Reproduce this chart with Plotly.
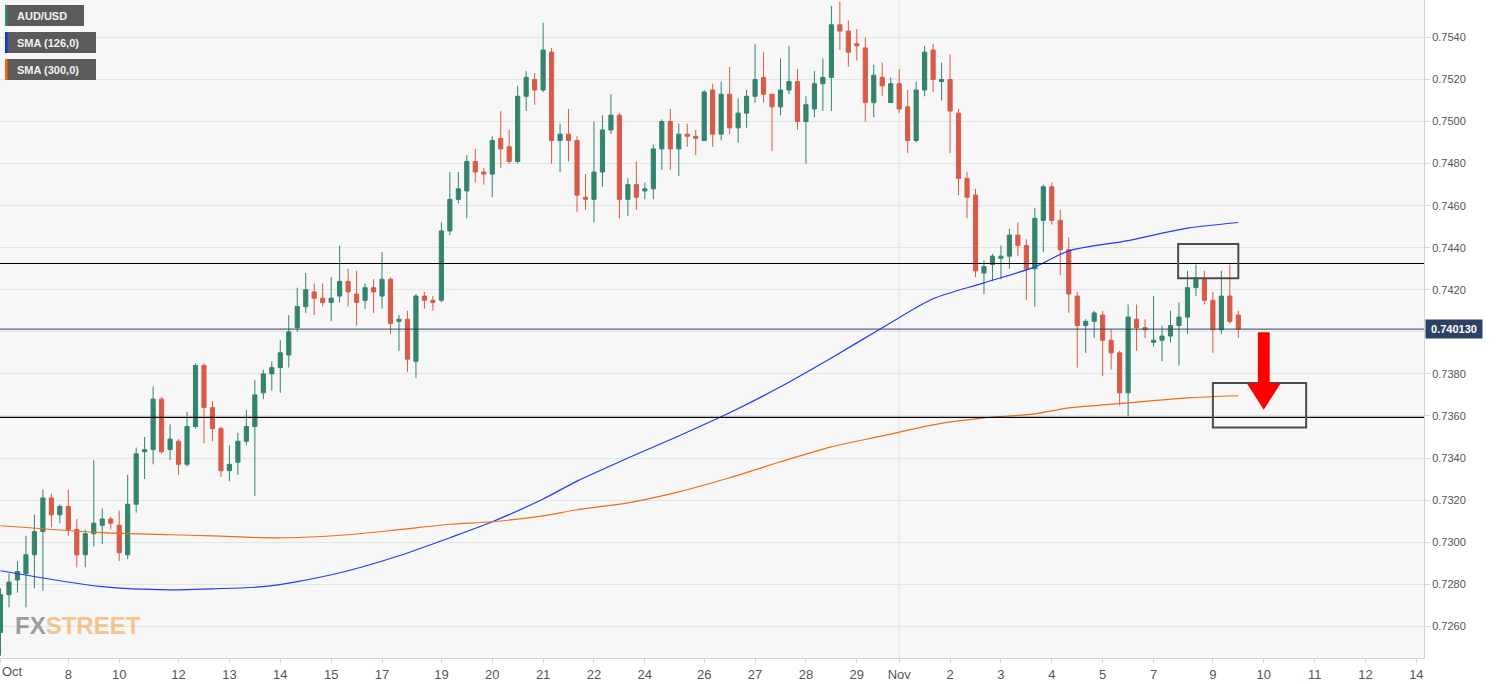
import plotly.graph_objects as go

# ---------------- data (4-hour AUD/USD candles) ----------------
opens = [0.7257,0.7275,0.7282,0.7285,0.7294,0.7305,0.7321,0.7313,0.7317,0.7306,
         0.7294,0.7304,0.7308,0.7311,0.7308,0.7294,0.7318,0.7343,0.7344,0.7368,
         0.7344,0.7348,0.7337,0.7355,0.7384,0.7364,0.7354,0.7334,0.7338,0.7348,
         0.7355,0.7371,0.7380,0.7383,0.7389,0.7402,0.7412,0.7419,0.7416,0.7414,
         0.7417,0.7424,0.7418,0.7415,0.7421,0.7417,0.7425,0.7405,0.7406,0.7386,
         0.7417,0.7415,0.7415,0.7448,0.7463,0.7467,0.7481,0.7476,0.7475,0.7492,
         0.7488,0.7481,0.7512,0.7520,0.7515,0.7533,0.7491,0.7494,0.7491,0.7464,
         0.7463,0.7476,0.7496,0.7503,0.7463,0.7470,0.7467,0.7468,0.7487,0.7500,
         0.7487,0.7494,0.7493,0.7491,0.7515,0.7494,0.7513,0.7497,0.7504,0.7512,
         0.7521,0.7513,0.7507,0.7515,0.7519,0.7500,0.7506,0.7518,0.7521,0.7546,
         0.7543,0.7537,0.7535,0.7509,0.7521,0.7509,0.7518,0.7507,0.7491,0.7515,
         0.7534,0.7519,0.7520,0.7504,0.7473,0.7465,0.7428,0.7432,0.7435,0.7436,
         0.7446,0.7441,0.7430,0.7453,0.7469,0.7453,0.7439,0.7417,0.7403,0.7405,
         0.7408,0.7396,0.7390,0.7371,0.7406,0.7402,0.7395,0.7396,0.7398,0.7403,
         0.7407,0.7421,0.7425,0.7415,0.7401,0.7417,0.7408]
highs = [0.7278,0.7285,0.7291,0.7303,0.7313,0.7325,0.7323,0.7318,0.7325,0.7311,
         0.7306,0.7339,0.7316,0.7312,0.7315,0.7332,0.7345,0.7350,0.7374,0.7369,
         0.7356,0.7349,0.7362,0.7385,0.7385,0.7367,0.7355,0.7346,0.7352,0.7363,
         0.7377,0.7382,0.7386,0.7396,0.7408,0.7421,0.7428,0.7423,0.7423,0.7426,
         0.7441,0.7430,0.7429,0.7423,0.7425,0.7438,0.7426,0.7408,0.7410,0.7418,
         0.7419,0.7417,0.7452,0.7476,0.7476,0.7484,0.7487,0.7478,0.7493,0.7505,
         0.7496,0.7517,0.7524,0.7523,0.7547,0.7535,0.7499,0.7506,0.7493,0.7475,
         0.7500,0.7503,0.7513,0.7504,0.7473,0.7481,0.7471,0.7489,0.7501,0.7506,
         0.7499,0.7499,0.7496,0.7515,0.7518,0.7519,0.7526,0.7511,0.7515,0.7537,
         0.7533,0.7513,0.7530,0.7536,0.7525,0.7512,0.7524,0.7530,0.7555,0.7557,
         0.7548,0.7544,0.7540,0.7527,0.7528,0.7521,0.7525,0.7515,0.7519,0.7536,
         0.7537,0.7528,0.7532,0.7506,0.7476,0.7468,0.7434,0.7437,0.7441,0.7449,
         0.7452,0.7444,0.7459,0.7470,0.7471,0.7458,0.7445,0.7419,0.7406,0.7410,
         0.7410,0.7401,0.7391,0.7413,0.7413,0.7406,0.7417,0.7403,0.7410,0.7414,
         0.7429,0.7432,0.7429,0.7419,0.7429,0.7432,0.7410]
lows = [0.7246,0.7269,0.7276,0.7269,0.7278,0.7277,0.7307,0.7309,0.7303,0.7288,
        0.7288,0.7298,0.7299,0.7306,0.7291,0.7292,0.7314,0.7330,0.7337,0.7342,
        0.7339,0.7332,0.7336,0.7354,0.7347,0.7348,0.7331,0.7329,0.7332,0.7346,
        0.7322,0.7368,0.7372,0.7371,0.7383,0.7400,0.7409,0.7408,0.7412,0.7405,
        0.7414,0.7412,0.7403,0.7411,0.7409,0.7411,0.7399,0.7391,0.7381,0.7378,
        0.7411,0.7410,0.7414,0.7446,0.7461,0.7454,0.7471,0.7470,0.7464,0.7478,
        0.7480,0.7480,0.7505,0.7508,0.7514,0.7480,0.7476,0.7481,0.7457,0.7458,
        0.7452,0.7469,0.7494,0.7454,0.7455,0.7458,0.7463,0.7463,0.7477,0.7477,
        0.7474,0.7488,0.7484,0.7491,0.7488,0.7491,0.7494,0.7490,0.7497,0.7509,
        0.7509,0.7486,0.7503,0.7513,0.7496,0.7480,0.7502,0.7505,0.7505,0.7534,
        0.7526,0.7529,0.7500,0.7502,0.7512,0.7509,0.7504,0.7485,0.7490,0.7512,
        0.7514,0.7510,0.7485,0.7465,0.7454,0.7426,0.7418,0.7424,0.7425,0.7430,
        0.7436,0.7415,0.7412,0.7438,0.7451,0.7427,0.7409,0.7383,0.7390,0.7397,
        0.7379,0.7382,0.7365,0.7360,0.7391,0.7397,0.7393,0.7386,0.7395,0.7384,
        0.7399,0.7417,0.7413,0.7390,0.7399,0.7404,0.7397]
closes = [0.7275,0.7281,0.7286,0.7294,0.7305,0.7321,0.7313,0.7317,0.7306,0.7294,
          0.7304,0.7309,0.7311,0.7309,0.7295,0.7318,0.7342,0.7344,0.7368,0.7343,
          0.7349,0.7337,0.7355,0.7384,0.7364,0.7354,0.7334,0.7337,0.7348,0.7355,
          0.7370,0.7380,0.7383,0.7390,0.7400,0.7412,0.7420,0.7416,0.7414,0.7416,
          0.7424,0.7419,0.7414,0.7421,0.7419,0.7425,0.7404,0.7406,0.7387,0.7417,
          0.7415,0.7414,0.7448,0.7463,0.7468,0.7481,0.7476,0.7475,0.7491,0.7487,
          0.7481,0.7512,0.7521,0.7515,0.7534,0.7491,0.7494,0.7491,0.7465,0.7463,
          0.7476,0.7496,0.7503,0.7463,0.7470,0.7464,0.7468,0.7487,0.7500,0.7487,
          0.7494,0.7493,0.7492,0.7514,0.7494,0.7513,0.7497,0.7504,0.7512,0.7520,
          0.7513,0.7507,0.7515,0.7519,0.7500,0.7508,0.7518,0.7521,0.7546,0.7543,
          0.7533,0.7536,0.7509,0.7522,0.7517,0.7518,0.7506,0.7491,0.7515,0.7533,
          0.7520,0.7520,0.7505,0.7473,0.7464,0.7429,0.7431,0.7436,0.7436,0.7446,
          0.7441,0.7430,0.7454,0.7469,0.7453,0.7439,0.7418,0.7403,0.7405,0.7409,
          0.7396,0.7390,0.7371,0.7407,0.7402,0.7401,0.7396,0.7398,0.7403,0.7407,
          0.7421,0.7425,0.7415,0.7401,0.7417,0.7405,0.74013]
bar_index = list(range(len(closes)))

# moving averages at selected bars
sma_bars = [0, 12, 20, 25, 31, 35, 41, 47, 53, 58, 64, 68, 74, 80, 86, 92, 98,
            104, 110, 116, 122, 126, 133, 140, 146]
sma126 = [0.72864, 0.72788, 0.72773, 0.72778, 0.72788, 0.72812, 0.72864, 0.72935,
          0.73021, 0.73097, 0.73205, 0.73290, 0.73400, 0.73505, 0.73615, 0.73739,
          0.73876, 0.74019, 0.74157, 0.74233, 0.74309, 0.74385, 0.74434, 0.74493,
          0.74520]
sma300 = [0.73078, 0.73045, 0.73035, 0.73030, 0.73021, 0.73022, 0.73035, 0.73059,
          0.73085, 0.73097, 0.73125, 0.73154, 0.73187, 0.73239, 0.73306, 0.73382,
          0.73453, 0.73505, 0.73558, 0.73591, 0.73610, 0.73638, 0.73662, 0.73686,
          0.73696]

tick_bars = [0, 8, 14, 21, 27, 33, 39, 45, 52, 58, 64, 70, 76, 83, 89, 95, 101,
             106, 112, 118, 124, 130, 136, 143, 149, 155, 161, 167]
tick_text = ["", "8", "10", "12", "13", "14", "15", "17", "19", "20", "21", "22",
             "24", "26", "27", "28", "29", "Nov", "2", "3", "4", "5", "7", "9",
             "10", "11", "12", "14"]
price_ticks = [0.7260, 0.7280, 0.7300, 0.7320, 0.7340, 0.7360, 0.7380, 0.7400,
               0.7420, 0.7440, 0.7460, 0.7480, 0.7500, 0.7520, 0.7540]
# the 0.7400 label sits under the last-price tag, so it is left blank
price_labels = ["0.7260", "0.7280", "0.7300", "0.7320", "0.7340", "0.7360",
                "0.7380", "", "0.7420", "0.7440", "0.7460", "0.7480",
                "0.7500", "0.7520", "0.7540"]

resistance = 0.74325
support = 0.73593
last_price = 0.74013

GREEN = "#33836f"
RED = "#d75b48"
NAVY = "#2c4163"
FRAME = "#cdd5e4"
NARROW = "Liberation Sans Narrow, Arial Narrow, Liberation Sans, Arial, sans-serif"
ARIAL = "Liberation Sans, Arial, sans-serif"

fig = go.Figure()

fig.add_trace(go.Candlestick(
    x=bar_index, open=opens, high=highs, low=lows, close=closes,
    increasing=dict(line=dict(color=GREEN, width=1), fillcolor=GREEN),
    decreasing=dict(line=dict(color=RED, width=1), fillcolor=RED),
    whiskerwidth=0, showlegend=False, hoverinfo="skip"))

fig.add_trace(go.Scatter(x=sma_bars, y=sma126, mode="lines",
                         line=dict(color="#1e3cf5", width=1.2, shape="spline", smoothing=0.8),
                         showlegend=False, hoverinfo="skip"))
fig.add_trace(go.Scatter(x=sma_bars, y=sma300, mode="lines",
                         line=dict(color="#ef6c16", width=1.2, shape="spline", smoothing=0.8),
                         showlegend=False, hoverinfo="skip"))

shapes = []
# month separator
shapes.append(dict(type="line", xref="x", yref="paper", x0=106, x1=106, y0=0, y1=1,
                   line=dict(color="#e3e3e3", width=1), layer="below"))
# horizontal levels
for lvl in (resistance, support):
    shapes.append(dict(type="line", xref="paper", yref="y", x0=0, x1=1, y0=lvl, y1=lvl,
                       line=dict(color="#000000", width=1.2)))
shapes.append(dict(type="line", xref="paper", yref="y", x0=0, x1=1, y0=last_price, y1=last_price,
                   line=dict(color=NAVY, width=1)))
# boxes
shapes.append(dict(type="rect", xref="x", yref="y", x0=138.9, x1=146.0, y0=0.74255, y1=0.74418,
                   line=dict(color="#4d4d4d", width=2)))
shapes.append(dict(type="rect", xref="x", yref="y", x0=143.0, x1=154.0, y0=0.73545, y1=0.73757,
                   line=dict(color="#4d4d4d", width=2)))
# red arrow
shapes.append(dict(type="path", xref="x", yref="y",
                   path="M 148.3,0.73998 L 149.7,0.73998 L 149.7,0.73756 L 151.0,0.73756 "
                        "L 149.0,0.73630 L 147.0,0.73756 L 148.3,0.73756 Z",
                   fillcolor="#ff0000", line=dict(width=0)))
# legend chips
legend_items = [("AUD/USD", "#2f8a74", 79), ("SMA (126,0)", "#1030ff", 91), ("SMA (300,0)", "#ff6600", 91)]
annotations = []
for k, (label, col, w) in enumerate(legend_items):
    top = -5 - 27 * k
    shapes.append(dict(type="rect", xref="paper", yref="paper", xsizemode="pixel", ysizemode="pixel",
                       xanchor=0, yanchor=1, x0=5, x1=5 + w, y0=top, y1=top - 21,
                       fillcolor="#5b5b5b", line=dict(width=0)))
    shapes.append(dict(type="rect", xref="paper", yref="paper", xsizemode="pixel", ysizemode="pixel",
                       xanchor=0, yanchor=1, x0=5, x1=7.5, y0=top, y1=top - 21,
                       fillcolor=col, line=dict(width=0)))
    annotations.append(dict(xref="paper", yref="paper", x=0, y=1, xanchor="left", yanchor="middle",
                            xshift=15, yshift=top - 10.5, text="<b>%s</b>" % label, showarrow=False,
                            font=dict(family=ARIAL, size=11, color="#f2f2f2")))

# last price tag
annotations.append(dict(xref="paper", yref="y", x=1, y=last_price, xanchor="left", yanchor="middle",
                        xshift=1, text="<b>0.740130</b>", showarrow=False, bgcolor=NAVY,
                        width=52, height=14, borderpad=2,
                        font=dict(family=ARIAL, size=11, color="#ffffff")))
# first x label (kept inside the frame)
annotations.append(dict(xref="paper", yref="paper", x=0, y=0, xanchor="left", yanchor="top",
                        yshift=-4, text="Oct", showarrow=False,
                        font=dict(family=NARROW, size=13, color="#555555")))
# watermark
annotations.append(dict(xref="paper", yref="paper", x=0, y=0, xanchor="left", yanchor="bottom",
                        xshift=13, yshift=17, showarrow=False,
                        text="<b><span style='color:#9c9c9c'>FX</span><span style='color:#f3c48c'>STREET</span></b>",
                        font=dict(family=NARROW, size=24)))

fig.update_layout(
    width=1501, height=684, autosize=False,
    margin=dict(l=0, r=77, t=0, b=26),
    paper_bgcolor="#ffffff", plot_bgcolor="#f7f7f7",
    showlegend=False, shapes=shapes, annotations=annotations,
    xaxis=dict(range=[-0.06, 167.9], showgrid=False, zeroline=False,
               showline=True, linecolor=FRAME, linewidth=1, mirror=True,
               ticks="outside", ticklen=4, tickcolor=FRAME,
               tickmode="array", tickvals=tick_bars, ticktext=tick_text,
               tickfont=dict(family=NARROW, size=13, color="#555555"),
               rangeslider=dict(visible=False), fixedrange=True),
    yaxis=dict(side="right", range=[0.72449, 0.75578], showgrid=True, gridcolor="#e4e4e4",
               gridwidth=1, zeroline=False, showline=True, linecolor=FRAME, linewidth=1,
               mirror=True, ticks="outside", ticklen=5, tickcolor=FRAME,
               tickmode="array", tickvals=price_ticks, ticktext=price_labels,
               tickfont=dict(family=ARIAL, size=11, color="#555555"), fixedrange=True),
)

fig.write_html("out.html")
